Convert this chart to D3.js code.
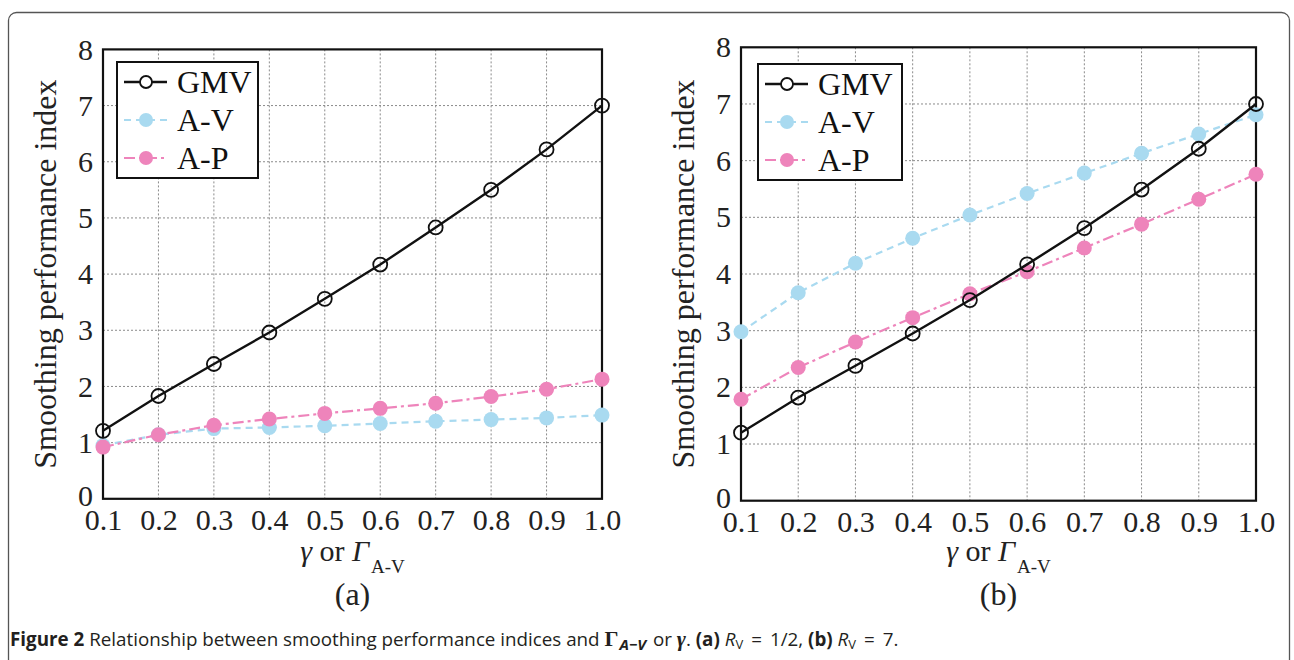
<!DOCTYPE html>
<html>
<head>
<meta charset="utf-8">
<script src="https://cdn.jsdelivr.net/npm/d3@7"></script>
<style>
  body { margin: 0; background: #fff; }
  svg { display: block; }
</style>
</head>
<body>
<svg id="chart" width="1294" height="660"></svg>
<script>
(function() {
    "use strict";

    // data
    var gammaValues = [0.1, 0.2, 0.3, 0.4, 0.5, 0.6, 0.7, 0.8, 0.9, 1.0];
    var xTickLabels = ["0.1", "0.2", "0.3", "0.4", "0.5", "0.6", "0.7", "0.8", "0.9", "1.0"];
    var yTicks = [0, 1, 2, 3, 4, 5, 6, 7, 8];
    var seriesNames = ["GMV", "A-V", "A-P"];

    var gmvA = [1.21, 1.83, 2.40, 2.96, 3.56, 4.17, 4.83, 5.50, 6.22, 7.00];
    var avA  = [0.95, 1.14, 1.25, 1.27, 1.30, 1.34, 1.38, 1.41, 1.44, 1.49];
    var apA  = [0.92, 1.14, 1.31, 1.42, 1.52, 1.61, 1.70, 1.82, 1.95, 2.13];

    var gmvB = [1.20, 1.82, 2.38, 2.95, 3.54, 4.17, 4.81, 5.49, 6.21, 7.00];
    var avB  = [2.98, 3.67, 4.19, 4.63, 5.04, 5.42, 5.78, 6.13, 6.47, 6.81];
    var apB  = [1.79, 2.35, 2.80, 3.23, 3.65, 4.04, 4.46, 4.88, 5.32, 5.76];

    var svg = d3.select("#chart");
    var serif = "'Liberation Serif', 'Times New Roman', serif";

    var styles = {
        "GMV": { color: "#111", dash: null, open: true },
        "A-V": { color: "#a9daf0", dash: "7,5", open: false },
        "A-P": { color: "#ee84bb", dash: "11,4,3,4", open: false }
    };

    // outer frame, bottom runs off the page
    svg.append("rect")
        .attr("x", 8.5).attr("y", 12.5)
        .attr("width", 1281).attr("height", 720)
        .attr("rx", 8)
        .attr("fill", "none")
        .attr("stroke", "#555")
        .attr("stroke-width", 1.3);

    var panels = [
        { left: 103, right: 602, top: 49.4, bottom: 498.8, label: "(a)", ylabelX: 45,
          legend: { x: 117, y: 62, w: 141, h: 116 },
          series: { "GMV": gmvA, "A-V": avA, "A-P": apA } },
        { left: 741, right: 1256, top: 47.3, bottom: 500.7, label: "(b)", ylabelX: 683,
          legend: { x: 758, y: 64, w: 144, h: 116 },
          series: { "GMV": gmvB, "A-V": avB, "A-P": apB } }
    ];

    panels.forEach(drawPanel);

    function drawPanel(p) {
        var g = svg.append("g");
        var x = d3.scaleLinear().domain([0.1, 1.0]).range([p.left, p.right]);
        var y = d3.scaleLinear().domain([0, 8]).range([p.bottom, p.top]);

        // dotted grid
        g.append("g").selectAll("line.vg")
            .data(gammaValues.slice(1, -1))
            .join("line")
            .attr("x1", function(d) { return x(d); })
            .attr("x2", function(d) { return x(d); })
            .attr("y1", p.top).attr("y2", p.bottom)
            .attr("stroke", "#8a8a8a")
            .attr("stroke-width", 1)
            .attr("stroke-dasharray", "2,2");
        g.append("g").selectAll("line.hg")
            .data(yTicks.slice(1, -1))
            .join("line")
            .attr("y1", function(d) { return y(d); })
            .attr("y2", function(d) { return y(d); })
            .attr("x1", p.left).attr("x2", p.right)
            .attr("stroke", "#8a8a8a")
            .attr("stroke-width", 1)
            .attr("stroke-dasharray", "2,2");

        // axes, ticks hidden, labels only
        var xAxis = d3.axisBottom(x)
            .tickValues(gammaValues)
            .tickFormat(function(d, i) { return xTickLabels[i]; })
            .tickSize(0).tickPadding(10);
        var xg = g.append("g").attr("transform", "translate(0," + p.bottom + ")").call(xAxis);
        xg.select(".domain").remove();
        xg.selectAll("text")
            .attr("font-family", serif)
            .attr("font-size", 30)
            .attr("fill", "#222");

        var yAxis = d3.axisLeft(y).tickValues(yTicks).tickSize(0).tickPadding(10);
        var yg = g.append("g").attr("transform", "translate(" + p.left + ",0)").call(yAxis);
        yg.select(".domain").remove();
        yg.selectAll("text")
            .attr("font-family", serif)
            .attr("font-size", 30)
            .attr("fill", "#222");
        yg.selectAll(".tick").filter(function(d) { return d === 0; })
            .select("text").attr("dy", "0.22em");

        // plot box
        g.append("rect")
            .attr("x", p.left).attr("y", p.top)
            .attr("width", p.right - p.left).attr("height", p.bottom - p.top)
            .attr("fill", "none")
            .attr("stroke", "#111")
            .attr("stroke-width", 2.2);

        // series, drawn so GMV sits on top
        var order = ["A-V", "A-P", "GMV"];
        order.forEach(function(name) {
            var vals = p.series[name];
            var st = styles[name];
            var pts = gammaValues.map(function(gv, i) { return [gv, vals[i]]; });
            var line = d3.line()
                .x(function(d) { return x(d[0]); })
                .y(function(d) { return y(d[1]); });
            g.append("path")
                .datum(pts)
                .attr("d", line)
                .attr("fill", "none")
                .attr("stroke", st.color)
                .attr("stroke-width", name === "GMV" ? 2.4 : 2.2)
                .attr("stroke-dasharray", st.dash);
            g.append("g").selectAll("circle")
                .data(pts)
                .join("circle")
                .attr("cx", function(d) { return x(d[0]); })
                .attr("cy", function(d) { return y(d[1]); })
                .attr("r", st.open ? 7 : 7.5)
                .attr("fill", st.open ? "none" : st.color)
                .attr("stroke", st.open ? "#111" : "none")
                .attr("stroke-width", 1.8);
        });

        // legend
        var L = p.legend;
        var lg = g.append("g").attr("transform", "translate(" + L.x + "," + L.y + ")");
        lg.append("rect")
            .attr("width", L.w).attr("height", L.h)
            .attr("fill", "#fff")
            .attr("stroke", "#111")
            .attr("stroke-width", 2);
        seriesNames.forEach(function(name, i) {
            var st = styles[name];
            var cy = 20 + i * 38;
            lg.append("line")
                .attr("x1", 7).attr("x2", 50)
                .attr("y1", cy).attr("y2", cy)
                .attr("stroke", st.color)
                .attr("stroke-width", name === "GMV" ? 2.4 : 2.2)
                .attr("stroke-dasharray", st.dash);
            lg.append("circle")
                .attr("cx", 29).attr("cy", cy)
                .attr("r", st.open ? 6 : 7)
                .attr("fill", st.open ? "#fff" : st.color)
                .attr("stroke", st.open ? "#111" : "none")
                .attr("stroke-width", 1.8);
            lg.append("text")
                .attr("x", 60).attr("y", cy + 11)
                .attr("font-family", serif)
                .attr("font-size", 32)
                .attr("fill", "#111")
                .text(name);
        });

        // axis titles
        var cx = (p.left + p.right) / 2;
        var cyMid = (p.top + p.bottom) / 2;
        g.append("text")
            .attr("transform", "translate(" + p.ylabelX + "," + cyMid + ") rotate(-90)")
            .attr("text-anchor", "middle")
            .attr("dy", "0.35em")
            .attr("font-family", serif)
            .attr("font-size", 32)
            .attr("fill", "#222")
            .text("Smoothing performance index");

        var xt = g.append("text")
            .attr("x", cx).attr("y", 561)
            .attr("text-anchor", "middle")
            .attr("font-family", serif)
            .attr("font-size", 30)
            .attr("fill", "#222");
        xt.append("tspan").attr("font-style", "italic").text("γ");
        xt.append("tspan").text(" or ");
        xt.append("tspan").attr("font-style", "italic").text("Γ");
        xt.append("tspan").attr("font-size", 19).attr("dy", 12).attr("dx", 2).text("A-V");

        g.append("text")
            .attr("x", cx).attr("y", 605)
            .attr("text-anchor", "middle")
            .attr("font-family", serif)
            .attr("font-size", 32)
            .attr("fill", "#222")
            .text(p.label);
    }

    // caption
    var sans = "'Open Sans', 'Noto Sans', sans-serif";
    var cap = svg.append("text")
        .attr("x", 10).attr("y", 646)
        .attr("font-family", sans)
        .attr("font-size", 18.8)
        .attr("fill", "#231f20");
    cap.append("tspan").attr("font-weight", "bold").text("Figure 2");
    cap.append("tspan").text(" Relationship between smoothing performance indices and ");
    cap.append("tspan").attr("font-family", serif).attr("font-weight", "bold").attr("font-size", 22).text("Γ");
    cap.append("tspan").attr("font-weight", "bold").attr("font-style", "italic")
        .attr("font-size", 15).attr("dy", 4).attr("dx", 1).text("A−V");
    cap.append("tspan").attr("dy", -4).attr("dx", 2).text(" or ");
    cap.append("tspan").attr("font-family", serif).attr("font-weight", "bold").attr("font-style", "italic")
        .attr("font-size", 22).text("γ");
    cap.append("tspan").text(". ");
    cap.append("tspan").attr("font-weight", "bold").text("(a)");
    cap.append("tspan").text(" ");
    cap.append("tspan").attr("font-style", "italic").text("R");
    cap.append("tspan").attr("font-size", 13).attr("dy", 3).text("V");
    cap.append("tspan").attr("dy", -3).attr("dx", 8).text("=");
    cap.append("tspan").attr("dx", 8).text("1/2, ");
    cap.append("tspan").attr("font-weight", "bold").text("(b)");
    cap.append("tspan").text(" ");
    cap.append("tspan").attr("font-style", "italic").text("R");
    cap.append("tspan").attr("font-size", 13).attr("dy", 3).text("V");
    cap.append("tspan").attr("dy", -3).attr("dx", 8).text("=");
    cap.append("tspan").attr("dx", 8).text("7.");
})();
</script>
</body>
</html>
